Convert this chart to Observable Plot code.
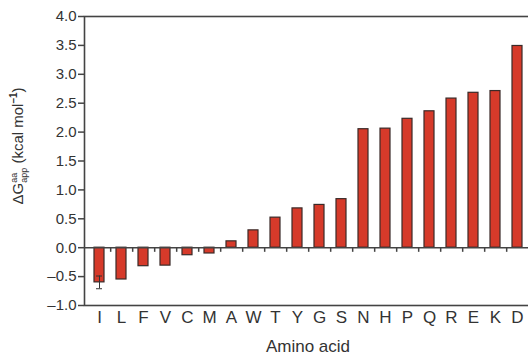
<!DOCTYPE html>
<html>
<head>
<meta charset="utf-8">
<script src="https://cdn.jsdelivr.net/npm/d3@7"></script>
<script src="https://cdn.jsdelivr.net/npm/@observablehq/plot@0.6"></script>
<style>
html, body { margin: 0; padding: 0; background: #fff; overflow: hidden; }
#chart { width: 528px; height: 359px; overflow: hidden; }
svg { font-family: "Liberation Sans", Arial, sans-serif; overflow: visible; }
</style>
</head>
<body>
<div id="chart"></div>
<script>
const aminoAcids = ["I","L","F","V","C","M","A","W","T","Y","G","S","N","H","P","Q","R","E","K","D"];
const deltaG = [-0.60,-0.55,-0.32,-0.31,-0.13,-0.10,0.11,0.30,0.52,0.68,0.74,0.84,2.05,2.06,2.23,2.36,2.58,2.68,2.71,3.49];
const errorAcids = ["I"];
const errorValues = [0.11];
const yTicks = [-1.0,-0.5,0.0,0.5,1.0,1.5,2.0,2.5,3.0,3.5,4.0];

const data = aminoAcids.map((a, i) => ({acid: a, value: deltaG[i]}));
const errData = errorAcids.map((a, i) => ({acid: a, value: deltaG[aminoAcids.indexOf(a)], err: errorValues[i]}));

const W = 528, H = 359, mL = 84, mR = -3, mT = 16, mB = 54;
const step = (W - mL - mR) / aminoAcids.length;

const fmt = d => (d < 0 ? "\u2013" : "") + Math.abs(d).toFixed(1);

const plot = Plot.plot({
  width: W, height: H,
  marginLeft: mL, marginRight: mR, marginTop: mT, marginBottom: mB,
  style: {fontFamily: "'Liberation Sans', Arial, sans-serif", color: "#333", background: "#fff"},
  x: {type: "band", domain: aminoAcids, paddingInner: 0.55, paddingOuter: 0.275},
  y: {domain: [-1, 4]},
  marks: [
    Plot.frame({stroke: "#444", strokeWidth: 1.6}),
    Plot.barY(data, {x: "acid", y: "value", fill: "#d63a2a", stroke: "#3a2a28", strokeWidth: 1.2}),
    Plot.ruleY([0], {stroke: "#444", strokeWidth: 1.5}),
    Plot.ruleX(aminoAcids.slice(0, -1), {x: d => d, y1: 0, y2: -0.08, dx: step / 2, stroke: "#444", strokeWidth: 1.5}),
    Plot.ruleX(errData, {x: "acid", y1: d => d.value - d.err, y2: d => d.value + d.err, stroke: "#333", strokeWidth: 1}),
    Plot.tickY(errData, {x: "acid", y: d => d.value - d.err, stroke: "#333", strokeWidth: 1, insetLeft: 2, insetRight: 2}),
    Plot.tickY(errData, {x: "acid", y: d => d.value + d.err, stroke: "#333", strokeWidth: 1, insetLeft: 2, insetRight: 2}),
    Plot.axisY({ticks: yTicks, tickFormat: fmt, tickSize: 6, tickPadding: 2, label: null, fontSize: 15, stroke: "#444", strokeWidth: 1.5}),
    Plot.axisX({tickSize: 0, tickPadding: 5, fontSize: 17, label: "Amino acid", labelAnchor: "center", labelArrow: "none", labelOffset: 46})
  ]
});

const svg = d3.select(plot);
const lab = svg.append("text")
  .attr("transform", "translate(23,146) rotate(-90)")
  .attr("text-anchor", "middle")
  .attr("fill", "#333")
  .attr("font-size", 15)
  .attr("font-family", "'Liberation Sans', Arial, sans-serif");
lab.append("tspan").text("\u0394G");
lab.append("tspan").attr("font-size", 9).attr("dy", -6).text("aa");
lab.append("tspan").attr("font-size", 9).attr("dx", -10).attr("dy", 10).text("app");
lab.append("tspan").attr("dy", -4).text(" (kcal mol");
lab.append("tspan").attr("font-size", 10).attr("dy", -6).attr("font-weight", "bold").text("\u20131");
lab.append("tspan").attr("dy", 6).text(")");

document.getElementById("chart").appendChild(plot);
</script>
</body>
</html>
